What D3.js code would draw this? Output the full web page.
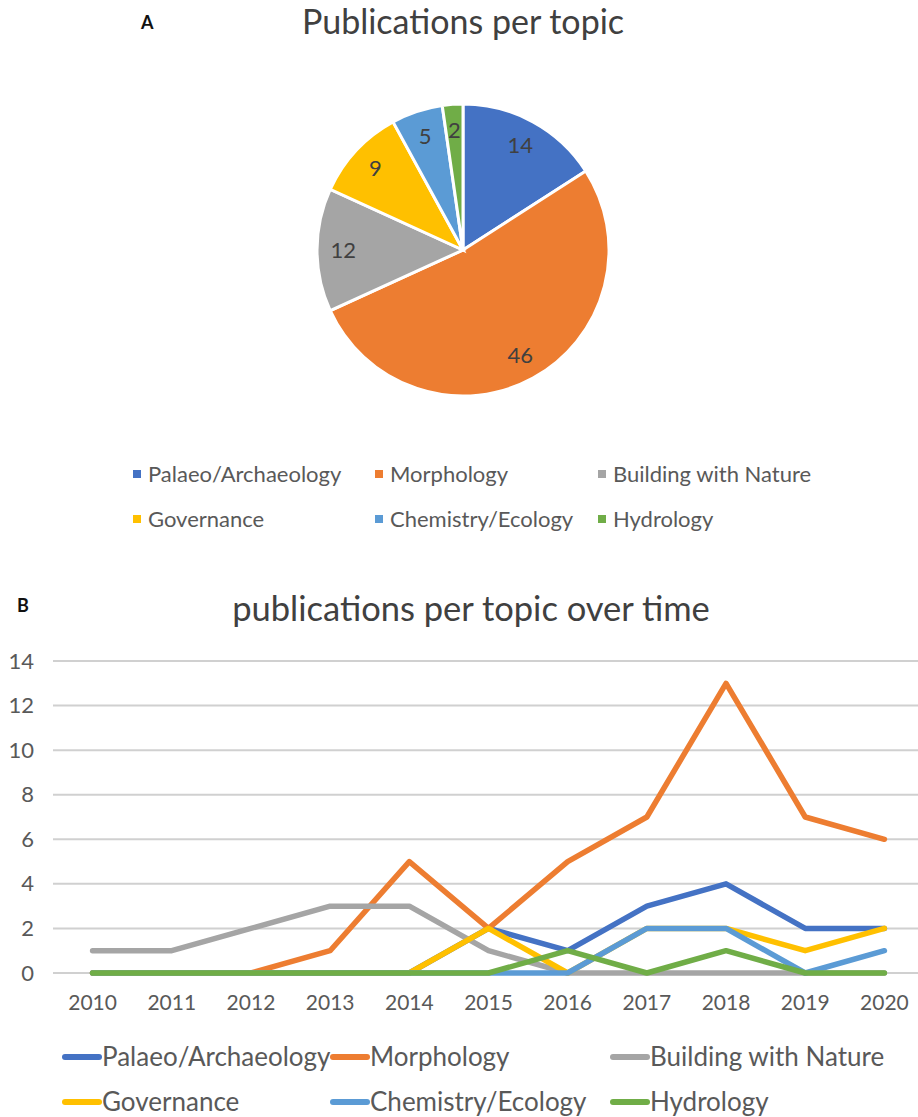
<!DOCTYPE html>
<html>
<head>
<meta charset="utf-8">
<script src="https://cdn.jsdelivr.net/npm/d3@7/dist/d3.min.js"></script>
<style>
  body { margin: 0; background: #fff; }
  text { font-family: Lato, "Open Sans", sans-serif; }
</style>
</head>
<body>
<script>
var topics = ["Palaeo/Archaeology", "Morphology", "Building with Nature", "Governance", "Chemistry/Ecology", "Hydrology"];
var colors = ["#4472C4", "#ED7D31", "#A5A5A5", "#FFC000", "#5B9BD5", "#70AD47"];
var totals = [14, 46, 12, 9, 5, 2];

var years = ["2010", "2011", "2012", "2013", "2014", "2015", "2016", "2017", "2018", "2019", "2020"];
var palaeo     = [0, 0, 0, 0, 0, 2, 1, 3, 4, 2, 2];
var morphology = [0, 0, 0, 1, 5, 2, 5, 7, 13, 7, 6];
var building   = [1, 1, 2, 3, 3, 1, 0, 0, 0, 0, 0];
var governance = [0, 0, 0, 0, 0, 2, 0, 2, 2, 1, 2];
var chemistry  = [0, 0, 0, 0, 0, 0, 0, 2, 2, 0, 1];
var hydrology  = [0, 0, 0, 0, 0, 0, 1, 0, 1, 0, 0];
var yTicks = [0, 2, 4, 6, 8, 10, 12, 14];

var series = [palaeo, morphology, building, governance, chemistry, hydrology];

var width = 918, height = 1117;
var textColor = "#595959";

var svg = d3.select("body").append("svg")
  .attr("width", width)
  .attr("height", height);

svg.append("rect").attr("width", width).attr("height", height).attr("fill", "#fff");

// ---------- A: pie ----------
svg.append("text")
  .attr("x", 141).attr("y", 29)
  .attr("font-size", 18).attr("font-weight", "bold").attr("fill", "#111")
  .attr("font-family", "'DejaVu Sans', sans-serif")
  .text("A");

svg.append("text")
  .attr("x", 463).attr("y", 34)
  .attr("text-anchor", "middle")
  .attr("font-size", 34).attr("fill", "#404040")
  .text("Publications per topic");

var cx = 463, cy = 250, radius = 146;
var pie = d3.pie().sort(null).value(function (d) { return d; });
var arc = d3.arc().innerRadius(0).outerRadius(radius);
var labelArc = d3.arc().innerRadius(radius * 0.82).outerRadius(radius * 0.82);

var pieG = svg.append("g").attr("transform", "translate(" + cx + "," + cy + ")");
var slices = pie(totals);

pieG.selectAll("path.slice")
  .data(slices)
  .enter().append("path")
  .attr("class", "slice")
  .attr("d", arc)
  .attr("fill", function (d, i) { return colors[i]; })
  .attr("stroke", "#fff")
  .attr("stroke-width", 3);

pieG.selectAll("text.lbl")
  .data(slices)
  .enter().append("text")
  .attr("class", "lbl")
  .attr("transform", function (d) { return "translate(" + labelArc.centroid(d) + ")"; })
  .attr("text-anchor", "middle")
  .attr("dy", "0.35em")
  .attr("font-size", 22)
  .attr("fill", "#404040")
  .text(function (d) { return d.data; });

// pie legend
var legCols = [133, 375, 598], legRows = [474, 519];
var pieLeg = svg.append("g").selectAll("g")
  .data(topics)
  .enter().append("g")
  .attr("transform", function (d, i) {
    return "translate(" + legCols[i % 3] + "," + legRows[Math.floor(i / 3)] + ")";
  });
pieLeg.append("rect")
  .attr("x", 0).attr("y", -4).attr("width", 8).attr("height", 8)
  .attr("fill", function (d, i) { return colors[i]; });
pieLeg.append("text")
  .attr("x", 15).attr("dy", "0.35em")
  .attr("font-size", 22).attr("fill", textColor)
  .text(function (d) { return d; });

// ---------- B: lines ----------
svg.append("text")
  .attr("x", 17).attr("y", 612)
  .attr("font-size", 18).attr("font-weight", "bold").attr("fill", "#111")
  .attr("font-family", "'DejaVu Sans', sans-serif")
  .text("B");

svg.append("text")
  .attr("x", 471).attr("y", 621)
  .attr("text-anchor", "middle")
  .attr("font-size", 34.5).attr("fill", "#404040")
  .text("publications per topic over time");

var x = d3.scaleBand().domain(years).range([53, 924]);
var y = d3.scaleLinear().domain([0, 14]).range([973, 661]);

var grid = svg.append("g");
grid.selectAll("line")
  .data(yTicks)
  .enter().append("line")
  .attr("x1", 53).attr("x2", width)
  .attr("y1", function (d) { return y(d); })
  .attr("y2", function (d) { return y(d); })
  .attr("stroke", "#d0d0d0")
  .attr("stroke-width", 2);

var yAxis = svg.append("g")
  .attr("transform", "translate(34,0)")
  .call(d3.axisLeft(y).tickValues(yTicks).tickSize(0).tickPadding(0));
yAxis.select(".domain").remove();
yAxis.selectAll("text")
  .attr("font-size", 22).attr("fill", textColor)
  .style("font-family", "Lato, 'Open Sans', sans-serif");

var xAxis = svg.append("g")
  .attr("transform", "translate(0,991)")
  .call(d3.axisBottom(x).tickSize(0).tickPadding(0));
xAxis.select(".domain").remove();
xAxis.selectAll("text")
  .attr("font-size", 21).attr("fill", textColor)
  .attr("dy", "0.9em")
  .style("font-family", "Lato, 'Open Sans', sans-serif");

var line = d3.line()
  .x(function (d, i) { return x(years[i]) + x.bandwidth() / 2; })
  .y(function (d) { return y(d); });

svg.append("g").selectAll("path")
  .data(series)
  .enter().append("path")
  .attr("d", line)
  .attr("fill", "none")
  .attr("stroke", function (d, i) { return colors[i]; })
  .attr("stroke-width", 5.5)
  .attr("stroke-linejoin", "round")
  .attr("stroke-linecap", "round");

// line legend
var lCols = [62, 330, 610], lRows = [1057, 1102];
var lineLeg = svg.append("g").selectAll("g")
  .data(topics)
  .enter().append("g")
  .attr("transform", function (d, i) {
    return "translate(" + lCols[i % 3] + "," + lRows[Math.floor(i / 3)] + ")";
  });
lineLeg.append("line")
  .attr("x1", 3).attr("x2", 37)
  .attr("stroke", function (d, i) { return colors[i]; })
  .attr("stroke-width", 6)
  .attr("stroke-linecap", "round");
lineLeg.append("text")
  .attr("x", 40).attr("dy", "0.35em")
  .attr("font-size", 26).attr("fill", textColor)
  .text(function (d) { return d; });
</script>
</body>
</html>
